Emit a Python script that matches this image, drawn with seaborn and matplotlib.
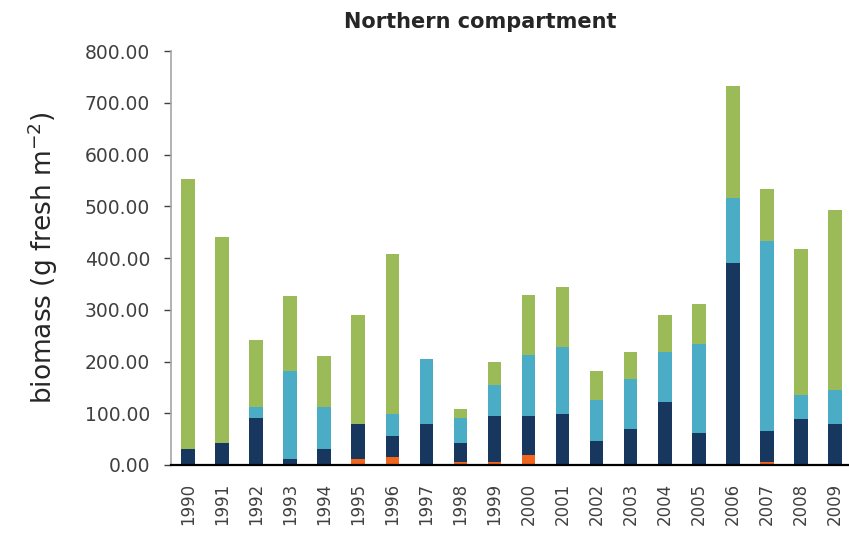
import matplotlib
matplotlib.use("Agg")
import matplotlib.pyplot as plt
import numpy as np
import pandas as pd
import seaborn as sns

years = [str(y) for y in range(1990, 2010)]
orange = [0, 0, 0, 0, 0, 12, 16, 0, 6, 5, 19, 0, 0, 0, 0, 0, 0, 5, 0, 0]
navy = [30, 43, 90, 12, 30, 68, 41, 80, 37, 89, 76, 99, 47, 70, 121, 61, 391, 61, 89, 79]
blue = [0, 0, 23, 170, 83, 0, 42, 125, 47, 60, 118, 129, 79, 97, 97, 172, 125, 366, 46, 65]
green = [522, 398, 129, 144, 97, 209, 309, 0, 18, 46, 116, 116, 56, 51, 71, 78, 217, 102, 283, 348]

colors = {"orange": "#F2651D", "navy": "#17375E", "blue": "#4BACC6", "green": "#9BBB59"}

df = pd.DataFrame({"year": years, "orange": orange, "navy": navy,
                   "blue": blue, "green": green})
layers = ["orange", "navy", "blue", "green"]
cum = df[layers].cumsum(axis=1)
cum["year"] = df["year"]

sns.set_style("white")
plt.rcParams["font.family"] = ["DejaVu Sans"]

fig = plt.figure(figsize=(8.49, 5.35), dpi=100)
ax = fig.add_axes([171 / 849, 70 / 535, 681 / 849, 414 / 535])

# draw cumulative totals from the top layer down so each layer shows as a segment
for layer in layers[::-1]:
    sns.barplot(data=cum, x="year", y=layer, color=colors[layer],
                width=0.4, saturation=1, ax=ax, linewidth=0)

ax.set_xlim(-0.5, len(years) - 0.5)
ax.set_ylim(0, 800)
ax.set_yticks(np.arange(0, 801, 100))
ax.set_yticklabels([f"{v:.2f}" for v in np.arange(0, 801, 100)])
ax.set_xlabel("")
ax.set_ylabel("biomass (g fresh m$^{-2}$)", fontsize=19, labelpad=18)

ax.set_xticks(np.arange(len(years)))
ax.set_xticklabels(years, rotation=90, va="top")
ax.set_xticks(np.arange(len(years)) + 0.5, minor=True)
ax.tick_params(axis="x", which="major", length=0, pad=13, labelsize=12, labelcolor="#404040")
ax.tick_params(axis="x", which="minor", length=6, width=1, color="#A6A6A6", direction="out")
ax.tick_params(axis="y", length=5, width=1, color="#404040", pad=10, labelsize=13.5,
               labelcolor="#404040", left=True)

for side in ["top", "right"]:
    ax.spines[side].set_visible(False)
ax.spines["left"].set_color("#A6A6A6")
ax.spines["left"].set_linewidth(1.2)
ax.spines["bottom"].set_color("#000000")
ax.spines["bottom"].set_linewidth(1.6)

fig.text(480 / 849, 1 - 22 / 535, "Northern compartment", ha="center", va="center",
         fontsize=15, fontweight="bold")

fig.savefig("out.png", dpi=100)
